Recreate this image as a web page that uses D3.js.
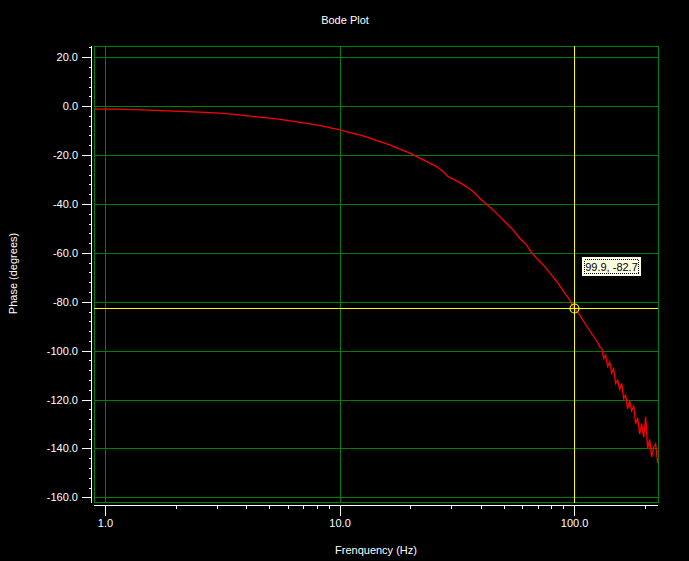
<!DOCTYPE html>
<html>
<head>
<meta charset="utf-8">
<script src="https://cdn.jsdelivr.net/npm/d3@7"></script>
<style>
  html, body { margin: 0; padding: 0; background: #000; }
  svg { display: block; }
  text { font-family: "Liberation Sans", Arial, sans-serif; font-size: 11px; fill: #fff; }
</style>
</head>
<body>
<svg id="chart" width="689" height="561"></svg>
<script>
// ---- data ----
const freqHz = [
  0.904, 1.128, 1.555, 1.954, 2.520, 3.090, 3.494, 3.808, 4.147, 4.553, 5.047, 5.475, 5.875, 6.306, 6.694,
  7.115, 7.597, 8.041, 8.446, 8.873, 9.273, 9.739,
  10.03, 11.06, 12.21, 13.46, 14.85, 16.38, 18.07, 19.93, 21.98, 24.25, 25.90, 27.64, 29.02, 31.00, 32.55,
  34.76, 37.09, 39.61, 42.30, 45.12, 48.20, 51.46, 54.92, 58.65, 62.64, 65.79, 70.21, 74.95, 80.04, 85.40,
  91.19, 95.76, 99.9, 105.7, 111.0, 118.5, 126.5,
  128.5, 131.05, 133.65, 136.3, 139.0, 141.75, 144.56, 147.42, 150.34, 153.32, 156.36, 159.46, 162.62,
  165.84, 169.13, 172.48, 175.90, 179.39, 182.94, 186.57, 190.27, 194.04, 197.88, 201.80, 205.80, 209.88,
  214.04, 218.28, 222.61, 227.02
];
const phaseDeg = [
  -1.23, -1.23, -1.64, -2.05, -2.45, -2.86, -3.27, -3.68, -4.09, -4.50, -4.91, -5.32, -5.73, -6.14, -6.55,
  -6.96, -7.36, -7.77, -8.18, -8.59, -9.00, -9.41,
  -9.70, -10.80, -11.74, -13.09, -14.48, -15.83, -17.59, -19.23, -21.28, -23.32, -24.71, -26.76, -28.81, -30.16, -31.26,
  -32.90, -34.94, -37.64, -40.10, -42.43, -45.17, -47.87, -50.61, -54.01, -56.75, -59.81, -62.85, -65.63, -69.03, -72.42,
  -76.51, -79.26, -82.7, -85.39, -88.79, -92.88, -96.97,
  -98.4, -99.0, -103.2, -101.8, -106.4, -104.6, -109.2, -107.4, -113.5, -112.1, -115.8, -113.4, -119.5,
  -118.2, -123.8, -120.5, -124.6, -122.7, -129.9, -127.5, -134.1, -129.8, -135.4, -127.1, -140.2, -136.3,
  -143.5, -139.6, -138.2, -146.0
];
const yMajorTicks = [20, 0, -20, -40, -60, -80, -100, -120, -140, -160];
const yMinorTicks = [24, 16, 12, 8, 4, -4, -8, -12, -16, -24, -28, -32, -36, -44, -48, -52, -56, -64, -68, -72, -76,
  -84, -88, -92, -96, -104, -108, -112, -116, -124, -128, -132, -136, -144, -148, -152, -156];
const xMajorTicks = [1, 10, 100];
const xTickLabels = ["1.0", "10.0", "100.0"];
const xMinorTicks = [2, 3, 4, 5, 6, 7, 8, 9, 20, 30, 40, 50, 60, 70, 80, 90, 200];
const markerFreq = 99.9;
const markerPhase = -82.7;
const titleText = "Bode Plot";
const xLabel = "Frenquency (Hz)";
const yLabel = "Phase (degrees)";

// ---- layout ----
const svg = d3.select("#chart");
svg.append("rect").attr("width", 689).attr("height", 561).attr("fill", "#000");
const L = 94, R = 658, T = 46, B = 502;
const GRID = "#008000";

const x = d3.scaleLog().domain([0.898, 227.8]).range([L, R]);
const y = d3.scaleLinear().domain([24.6, -161.9]).range([T, B]);
const px = v => Math.round(v) + 0.5;

// grid
const grid = svg.append("g").attr("shape-rendering", "crispEdges");
grid.selectAll("line.h").data(yMajorTicks).join("line")
  .attr("x1", L).attr("x2", R).attr("y1", d => px(y(d))).attr("y2", d => px(y(d)))
  .attr("stroke", GRID);
grid.selectAll("line.v").data(xMajorTicks).join("line")
  .attr("y1", T).attr("y2", B).attr("x1", d => px(x(d))).attr("x2", d => px(x(d)))
  .attr("stroke", GRID);
grid.append("rect").attr("x", L + 0.5).attr("y", T + 0.5).attr("width", R - L).attr("height", B - T)
  .attr("fill", "none").attr("stroke", GRID);

// curve
const pts = freqHz.map((f, i) => [f, phaseDeg[i]]);
svg.append("path").datum(pts)
  .attr("fill", "none").attr("stroke", "#ff0000").attr("stroke-width", 1.3)
  .attr("d", d3.line().x(d => x(d[0])).y(d => y(d[1])));

// crosshair
const mx = px(x(markerFreq)), my = px(y(markerPhase));
const ch = svg.append("g").attr("shape-rendering", "crispEdges");
ch.append("line").attr("x1", mx).attr("x2", mx).attr("y1", T).attr("y2", B + 1).attr("stroke", "#ffff00");
ch.append("line").attr("x1", L).attr("x2", R).attr("y1", my).attr("y2", my).attr("stroke", "#ffff00");
svg.append("circle").attr("cx", mx).attr("cy", my).attr("r", 4.5)
  .attr("fill", "none").attr("stroke", "#ffff00").attr("stroke-width", 1.2);

// value label
const bx = Math.round(x(markerFreq)) + 8, by = Math.round(y(markerPhase)) - 51;
const lab = svg.append("g");
lab.append("rect").attr("x", bx).attr("y", by).attr("width", 59).attr("height", 19).attr("fill", "#ffffe1");
lab.append("rect").attr("x", bx + 2.5).attr("y", by + 2.5).attr("width", 54).attr("height", 14)
  .attr("fill", "none").attr("stroke", "#000").attr("stroke-dasharray", "1,1").attr("shape-rendering", "crispEdges");
lab.append("text").attr("x", bx + 29.5).attr("y", by + 14).attr("text-anchor", "middle")
  .style("fill", "#000").text(markerFreq.toFixed(1) + ", " + markerPhase.toFixed(1));

// y axis
const yAxisG = svg.append("g").attr("transform", "translate(91.5,0)");
yAxisG.call(d3.axisLeft(y).tickValues(yMajorTicks).tickSize(10).tickSizeOuter(0).tickPadding(3.5)
  .tickFormat(d => d.toFixed(1)));
yAxisG.call(g => g.select(".domain").remove());
yAxisG.append("line").attr("x1", 0).attr("x2", 0).attr("y1", T).attr("y2", B + 1).attr("stroke", "#fff");
yAxisG.selectAll(".minor").data(yMinorTicks).join("line").attr("class", "minor")
  .attr("x1", -3).attr("x2", 0).attr("y1", d => px(y(d))).attr("y2", d => px(y(d))).attr("stroke", "#fff");
yAxisG.selectAll(".tick line").attr("stroke", "#fff");
yAxisG.selectAll(".tick text").style("fill", "#fff").attr("font-size", 11).attr("font-family", "Liberation Sans, Arial, sans-serif");
yAxisG.attr("shape-rendering", "crispEdges");

// x axis
const xAxisG = svg.append("g").attr("transform", "translate(0,505.5)");
xAxisG.call(d3.axisBottom(x).tickValues(xMajorTicks).tickSize(10).tickSizeOuter(0).tickPadding(4)
  .tickFormat((d, i) => xTickLabels[i]));
xAxisG.call(g => g.select(".domain").remove());
xAxisG.append("line").attr("x1", L).attr("x2", R).attr("y1", 0).attr("y2", 0).attr("stroke", "#fff");
xAxisG.selectAll(".minor").data(xMinorTicks).join("line").attr("class", "minor")
  .attr("y1", 0).attr("y2", 3).attr("x1", d => px(x(d))).attr("x2", d => px(x(d))).attr("stroke", "#fff");
xAxisG.selectAll(".tick line").attr("stroke", "#fff");
xAxisG.selectAll(".tick text").style("fill", "#fff").attr("font-size", 11).attr("font-family", "Liberation Sans, Arial, sans-serif");
xAxisG.attr("shape-rendering", "crispEdges");

// titles
svg.append("text").attr("x", 345).attr("y", 24).attr("text-anchor", "middle").text(titleText);
svg.append("text").attr("x", (L + R) / 2).attr("y", 554).attr("text-anchor", "middle").text(xLabel);
svg.append("text").attr("transform", "translate(16.5,273.5) rotate(-90)").attr("text-anchor", "middle").text(yLabel);
</script>
</body>
</html>
